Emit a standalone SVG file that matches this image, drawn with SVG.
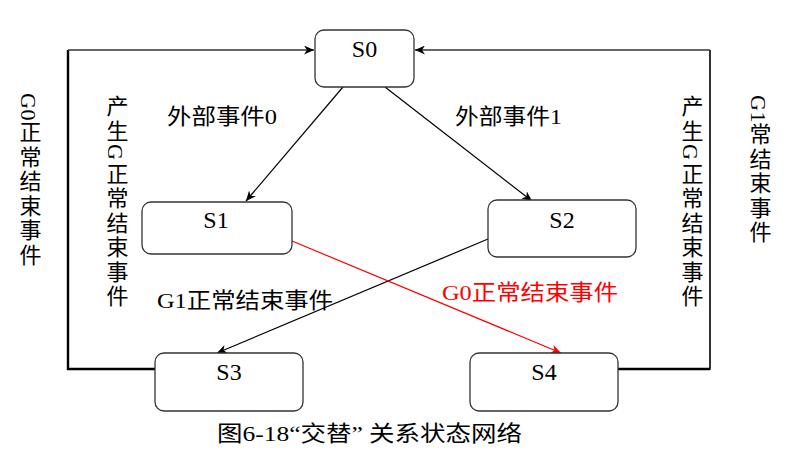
<svg xmlns="http://www.w3.org/2000/svg" width="786" height="450" viewBox="0 0 786 450">
  <style>
    .node rect { fill: #ffffff; stroke: #333333; stroke-width: 1.3; }
    .node text { font-family: "Liberation Serif", "Noto Sans CJK SC", serif; font-size: 24px; fill: #000; text-anchor: middle; }
    .lbl { font-family: "Liberation Serif", "Noto Sans CJK SC", serif; font-size: 22px; fill: #000; }
    .vert { font-family: "Liberation Serif", "Noto Sans CJK SC", serif; font-size: 22px; fill: #000; writing-mode: vertical-rl; letter-spacing: 2.5px; }
    .tight { letter-spacing: 0.5px; }
    .red { fill: #ff0000; }
    .edge { fill: none; stroke: #000; stroke-width: 1.2; }
    .edge.hot { stroke: #ff0000; }
    .frame { fill: none; stroke: #000; }
    .frame.thin { stroke: #333; stroke-width: 1.4; }
  </style>
  <defs>
    <marker id="arr" markerUnits="userSpaceOnUse" markerWidth="11" markerHeight="9" refX="10" refY="4.5" orient="auto">
      <path d="M0,0 L10,4.5 L0,9 L3,4.5 z" fill="#000"/>
    </marker>
    <marker id="arrRed" markerUnits="userSpaceOnUse" markerWidth="11" markerHeight="9" refX="10" refY="4.5" orient="auto">
      <path d="M0,0 L10,4.5 L0,9 L3,4.5 z" fill="#ff0000"/>
    </marker>
  </defs>

  <rect width="786" height="450" fill="#ffffff"/>

  <!-- connectors -->
  <g id="connectors">
    <!-- outer return loops to S0 -->
    <polyline class="frame" points="157,369 68,369 68,50" stroke-width="2.4"/>
    <line class="frame thin" x1="68" y1="50" x2="314" y2="50" marker-end="url(#arr)"/>
    <polyline class="frame" points="618,369 710,369 710,50" stroke-width="1.6"/>
    <line class="frame" x1="710" y1="369" x2="618" y2="369" stroke-width="2.4"/>
    <line class="frame thin" x1="710" y1="50" x2="415" y2="50" marker-end="url(#arr)"/>
    <!-- transitions -->
    <line class="edge" x1="343" y1="87" x2="246" y2="201" marker-end="url(#arr)"/>
    <line class="edge" x1="385" y1="87" x2="532" y2="201" marker-end="url(#arr)"/>
    <line class="edge" x1="488" y1="239" x2="217" y2="353" marker-end="url(#arr)"/>
    <line class="edge hot" x1="292" y1="241" x2="561" y2="353" marker-end="url(#arrRed)"/>
  </g>

  <!-- states -->
  <g id="S0" class="node">
    <rect x="315" y="30" width="99" height="57" rx="9"/>
    <text x="364.5" y="57">S0</text>
  </g>
  <g id="S1" class="node">
    <rect x="142" y="202" width="150" height="52" rx="9"/>
    <text x="216" y="228">S1</text>
  </g>
  <g id="S2" class="node">
    <rect x="488" y="200" width="148" height="57" rx="9"/>
    <text x="562" y="228">S2</text>
  </g>
  <g id="S3" class="node">
    <rect x="155" y="353" width="148" height="58" rx="9"/>
    <text x="229" y="380">S3</text>
  </g>
  <g id="S4" class="node">
    <rect x="470" y="353" width="148" height="58" rx="9"/>
    <text x="544" y="380">S4</text>
  </g>

  <!-- transition labels -->
  <g id="labels">
    <text class="lbl" x="167" y="124" textLength="110" lengthAdjust="spacingAndGlyphs">外部事件0</text>
    <text class="lbl" x="455" y="124" textLength="107" lengthAdjust="spacingAndGlyphs">外部事件1</text>
    <text class="lbl" x="157" y="308" textLength="176" lengthAdjust="spacingAndGlyphs">G1正常结束事件</text>
    <text class="lbl red" x="442" y="300" textLength="176" lengthAdjust="spacingAndGlyphs">G0正常结束事件</text>
    <text class="vert" x="28" y="93"><tspan class="tight">G0</tspan>正常结束事件</text>
    <text class="vert" x="115" y="95">产生G正常结束事件</text>
    <text class="vert" x="690" y="95">产生G正常结束事件</text>
    <text class="vert" x="758" y="95"><tspan class="tight">G1</tspan>常结束事件</text>
  </g>

  <!-- caption -->
  <text class="lbl" x="217" y="441" textLength="305" lengthAdjust="spacingAndGlyphs">图6-18“交替” 关系状态网络</text>
</svg>
